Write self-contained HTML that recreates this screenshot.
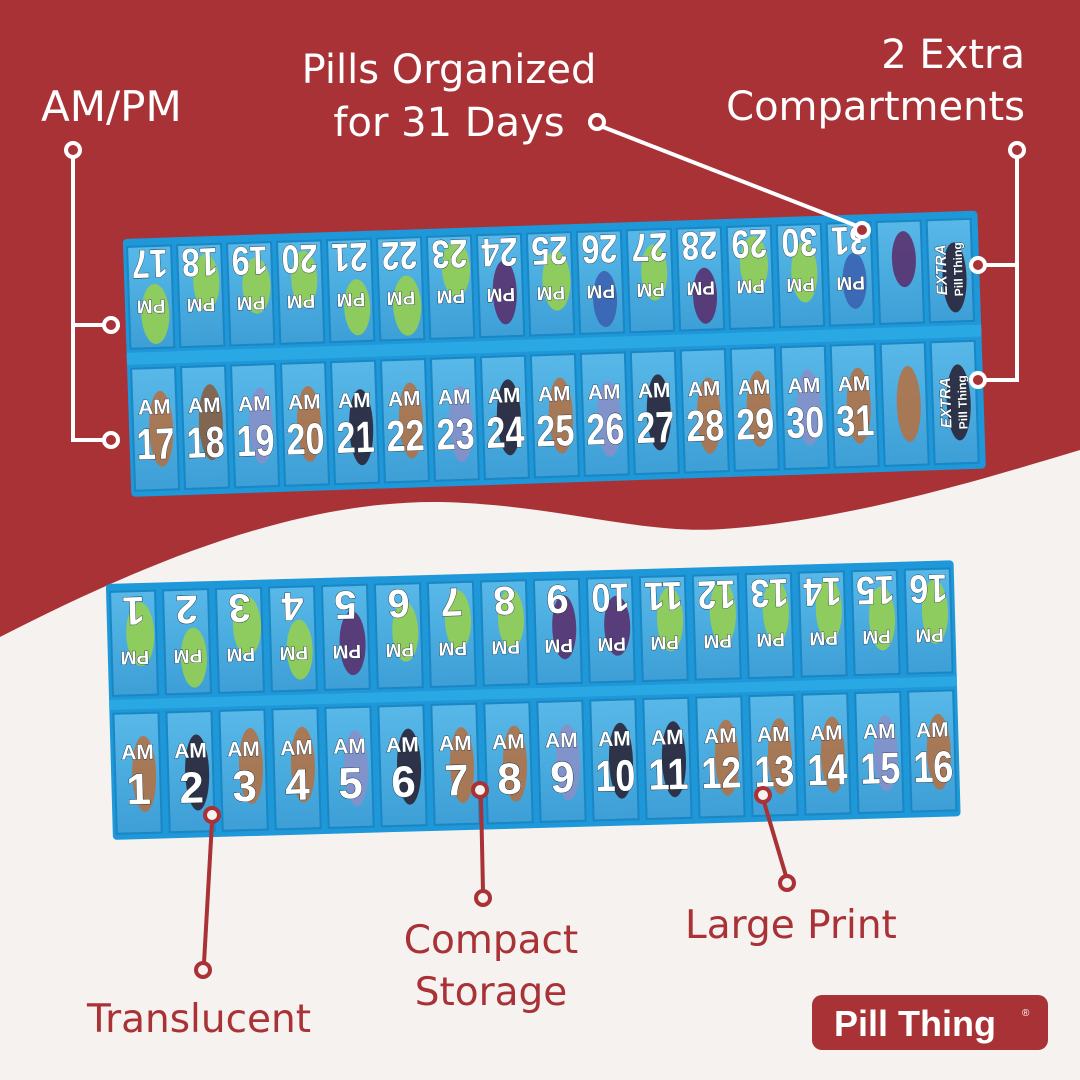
<!DOCTYPE html>
<html><head><meta charset="utf-8"><style>
html,body{margin:0;padding:0}
body{width:1080px;height:1080px;overflow:hidden;background:#a93237;font-family:"Liberation Sans",sans-serif}
svg{position:absolute;left:0;top:0}
.n{font-family:"Liberation Sans",sans-serif;font-weight:bold;fill:#fff;text-anchor:middle;stroke:#123;stroke-width:.8;paint-order:stroke}
.lab{font-family:"DejaVu Sans","Liberation Sans",sans-serif;font-size:40px}
</style></head><body>
<svg width="1080" height="1080" viewBox="0 0 1080 1080">
<path d="M0,637 C150,560 300,500 441,502 C560,505 640,535 723,529 C850,520 980,480 1080,450 L1080,1080 L0,1080Z" fill="#f6f2ef"/>
<defs>
<linearGradient id="c" x1="0" y1="0" x2="0" y2="1"><stop offset="0" stop-color="#58b8e8"/><stop offset="1" stop-color="#3d9fd6"/></linearGradient>
</defs>

<!-- TOP ORGANIZER -->
<g transform="translate(123,245) rotate(-1.9)">
<rect x="0" y="-6" width="855" height="258" rx="4" fill="#1e98d8"/>
<rect x="0" y="108" width="855" height="12" fill="#2aa8e4"/>
<g fill="url(#c)" stroke="#1a86c4" stroke-width="2">
<rect x="4" y="2" width="44" height="102"/><rect x="54" y="2" width="44" height="102"/><rect x="104" y="2" width="44" height="102"/><rect x="154" y="2" width="44" height="102"/><rect x="204" y="2" width="44" height="102"/><rect x="254" y="2" width="44" height="102"/><rect x="304" y="2" width="44" height="102"/><rect x="354" y="2" width="44" height="102"/><rect x="404" y="2" width="44" height="102"/><rect x="454" y="2" width="44" height="102"/><rect x="504" y="2" width="44" height="102"/><rect x="554" y="2" width="44" height="102"/><rect x="604" y="2" width="44" height="102"/><rect x="654" y="2" width="44" height="102"/><rect x="704" y="2" width="44" height="102"/><rect x="754" y="2" width="44" height="102"/><rect x="804" y="2" width="44" height="102"/>
<rect x="4" y="124" width="44" height="122"/><rect x="54" y="124" width="44" height="122"/><rect x="104" y="124" width="44" height="122"/><rect x="154" y="124" width="44" height="122"/><rect x="204" y="124" width="44" height="122"/><rect x="254" y="124" width="44" height="122"/><rect x="304" y="124" width="44" height="122"/><rect x="354" y="124" width="44" height="122"/><rect x="404" y="124" width="44" height="122"/><rect x="454" y="124" width="44" height="122"/><rect x="504" y="124" width="44" height="122"/><rect x="554" y="124" width="44" height="122"/><rect x="604" y="124" width="44" height="122"/><rect x="654" y="124" width="44" height="122"/><rect x="704" y="124" width="44" height="122"/><rect x="754" y="124" width="44" height="122"/><rect x="804" y="124" width="44" height="122"/>
</g>
<g opacity=".85">
<ellipse cx="30" cy="70" rx="14" ry="30" fill="#9bd24a"/><ellipse cx="82" cy="40" rx="13" ry="28" fill="#9bd24a"/><ellipse cx="132" cy="45" rx="14" ry="28" fill="#9bd24a"/><ellipse cx="180" cy="40" rx="13" ry="28" fill="#9bd24a"/><ellipse cx="232" cy="70" rx="13" ry="28" fill="#9bd24a"/><ellipse cx="282" cy="70" rx="14" ry="30" fill="#9bd24a"/><ellipse cx="332" cy="35" rx="14" ry="28" fill="#9bd24a"/><ellipse cx="380" cy="60" rx="12" ry="32" fill="#5b2a6a"/><ellipse cx="432" cy="50" rx="14" ry="30" fill="#9bd24a"/><ellipse cx="480" cy="70" rx="12" ry="28" fill="#3b5fb0"/><ellipse cx="530" cy="45" rx="13" ry="28" fill="#9bd24a"/><ellipse cx="580" cy="70" rx="12" ry="28" fill="#5b2a6a"/><ellipse cx="630" cy="40" rx="14" ry="28" fill="#9bd24a"/><ellipse cx="680" cy="50" rx="13" ry="30" fill="#9bd24a"/><ellipse cx="730" cy="60" rx="12" ry="28" fill="#3b5fb0"/><ellipse cx="780" cy="40" rx="12" ry="28" fill="#5b2a6a"/>
<ellipse cx="32" cy="185" rx="12" ry="38" fill="#b8703f"/><ellipse cx="82" cy="180" rx="12" ry="38" fill="#8b5a3a"/><ellipse cx="132" cy="185" rx="12" ry="38" fill="#8a8fc8"/><ellipse cx="180" cy="185" rx="12" ry="38" fill="#b8703f"/><ellipse cx="232" cy="190" rx="12" ry="38" fill="#2a1e30"/><ellipse cx="282" cy="185" rx="12" ry="38" fill="#b8703f"/><ellipse cx="332" cy="190" rx="12" ry="38" fill="#8a8fc8"/><ellipse cx="380" cy="185" rx="12" ry="38" fill="#2a1e30"/><ellipse cx="432" cy="185" rx="12" ry="38" fill="#b8703f"/><ellipse cx="480" cy="190" rx="12" ry="38" fill="#8a8fc8"/><ellipse cx="530" cy="185" rx="12" ry="38" fill="#2a1e30"/><ellipse cx="580" cy="190" rx="12" ry="38" fill="#b8703f"/><ellipse cx="630" cy="185" rx="12" ry="38" fill="#b8703f"/><ellipse cx="680" cy="185" rx="12" ry="38" fill="#8a8fc8"/><ellipse cx="730" cy="185" rx="12" ry="38" fill="#b8703f"/><ellipse cx="780" cy="185" rx="12" ry="38" fill="#b8703f"/>
<ellipse cx="830" cy="60" rx="12" ry="35" fill="#2a1e30"/><ellipse cx="830" cy="185" rx="12" ry="38" fill="#2a1e30"/>
</g>
<g class="n">
<g transform="rotate(180 26 52)" font-size="19"><text x="26" y="48">PM</text><text x="26" y="98" font-size="40" textLength="36" lengthAdjust="spacingAndGlyphs">17</text></g>
<g transform="rotate(180 76 52)" font-size="19"><text x="76" y="48">PM</text><text x="76" y="98" font-size="40" textLength="36" lengthAdjust="spacingAndGlyphs">18</text></g>
<g transform="rotate(180 126 52)" font-size="19"><text x="126" y="48">PM</text><text x="126" y="98" font-size="40" textLength="36" lengthAdjust="spacingAndGlyphs">19</text></g>
<g transform="rotate(180 176 52)" font-size="19"><text x="176" y="48">PM</text><text x="176" y="98" font-size="40" textLength="36" lengthAdjust="spacingAndGlyphs">20</text></g>
<g transform="rotate(180 226 52)" font-size="19"><text x="226" y="48">PM</text><text x="226" y="98" font-size="40" textLength="36" lengthAdjust="spacingAndGlyphs">21</text></g>
<g transform="rotate(180 276 52)" font-size="19"><text x="276" y="48">PM</text><text x="276" y="98" font-size="40" textLength="36" lengthAdjust="spacingAndGlyphs">22</text></g>
<g transform="rotate(180 326 52)" font-size="19"><text x="326" y="48">PM</text><text x="326" y="98" font-size="40" textLength="36" lengthAdjust="spacingAndGlyphs">23</text></g>
<g transform="rotate(180 376 52)" font-size="19"><text x="376" y="48">PM</text><text x="376" y="98" font-size="40" textLength="36" lengthAdjust="spacingAndGlyphs">24</text></g>
<g transform="rotate(180 426 52)" font-size="19"><text x="426" y="48">PM</text><text x="426" y="98" font-size="40" textLength="36" lengthAdjust="spacingAndGlyphs">25</text></g>
<g transform="rotate(180 476 52)" font-size="19"><text x="476" y="48">PM</text><text x="476" y="98" font-size="40" textLength="36" lengthAdjust="spacingAndGlyphs">26</text></g>
<g transform="rotate(180 526 52)" font-size="19"><text x="526" y="48">PM</text><text x="526" y="98" font-size="40" textLength="36" lengthAdjust="spacingAndGlyphs">27</text></g>
<g transform="rotate(180 576 52)" font-size="19"><text x="576" y="48">PM</text><text x="576" y="98" font-size="40" textLength="36" lengthAdjust="spacingAndGlyphs">28</text></g>
<g transform="rotate(180 626 52)" font-size="19"><text x="626" y="48">PM</text><text x="626" y="98" font-size="40" textLength="36" lengthAdjust="spacingAndGlyphs">29</text></g>
<g transform="rotate(180 676 52)" font-size="19"><text x="676" y="48">PM</text><text x="676" y="98" font-size="40" textLength="36" lengthAdjust="spacingAndGlyphs">30</text></g>
<g transform="rotate(180 726 52)" font-size="19"><text x="726" y="48">PM</text><text x="726" y="98" font-size="40" textLength="36" lengthAdjust="spacingAndGlyphs">31</text></g>
<g transform="rotate(-90 826 52)" font-size="15"><text x="826" y="48" font-style="italic">EXTRA</text><text x="826" y="64" font-size="12">Pill Thing</text></g>
<g transform="rotate(-90 826 185)" font-size="15"><text x="826" y="181" font-style="italic">EXTRA</text><text x="826" y="197" font-size="12">Pill Thing</text></g>
<g font-size="21"><text x="26" y="170">AM</text><text x="76" y="170">AM</text><text x="126" y="170">AM</text><text x="176" y="170">AM</text><text x="226" y="170">AM</text><text x="276" y="170">AM</text><text x="326" y="170">AM</text><text x="376" y="170">AM</text><text x="426" y="170">AM</text><text x="476" y="170">AM</text><text x="526" y="170">AM</text><text x="576" y="170">AM</text><text x="626" y="170">AM</text><text x="676" y="170">AM</text><text x="726" y="170">AM</text></g>
<g font-size="44" lengthAdjust="spacingAndGlyphs"><text x="26" y="215" textLength="38" lengthAdjust="spacingAndGlyphs">17</text><text x="76" y="215" textLength="38" lengthAdjust="spacingAndGlyphs">18</text><text x="126" y="215" textLength="38" lengthAdjust="spacingAndGlyphs">19</text><text x="176" y="215" textLength="38" lengthAdjust="spacingAndGlyphs">20</text><text x="226" y="215" textLength="38" lengthAdjust="spacingAndGlyphs">21</text><text x="276" y="215" textLength="38" lengthAdjust="spacingAndGlyphs">22</text><text x="326" y="215" textLength="38" lengthAdjust="spacingAndGlyphs">23</text><text x="376" y="215" textLength="38" lengthAdjust="spacingAndGlyphs">24</text><text x="426" y="215" textLength="38" lengthAdjust="spacingAndGlyphs">25</text><text x="476" y="215" textLength="38" lengthAdjust="spacingAndGlyphs">26</text><text x="526" y="215" textLength="38" lengthAdjust="spacingAndGlyphs">27</text><text x="576" y="215" textLength="38" lengthAdjust="spacingAndGlyphs">28</text><text x="626" y="215" textLength="38" lengthAdjust="spacingAndGlyphs">29</text><text x="676" y="215" textLength="38" lengthAdjust="spacingAndGlyphs">30</text><text x="726" y="215" textLength="38" lengthAdjust="spacingAndGlyphs">31</text></g>
</g>
</g>

<!-- BOTTOM ORGANIZER -->
<g transform="translate(106,590) rotate(-1.6)">
<rect x="0" y="-6" width="848" height="256" rx="4" fill="#1e98d8"/>
<rect x="0" y="110" width="848" height="10" fill="#2aa8e4"/>
<g fill="url(#c)" stroke="#1a86c4" stroke-width="2">
<rect x="4" y="2" width="45" height="104"/><rect x="57" y="2" width="45" height="104"/><rect x="110" y="2" width="45" height="104"/><rect x="163" y="2" width="45" height="104"/><rect x="216" y="2" width="45" height="104"/><rect x="269" y="2" width="45" height="104"/><rect x="322" y="2" width="45" height="104"/><rect x="375" y="2" width="45" height="104"/><rect x="428" y="2" width="45" height="104"/><rect x="481" y="2" width="45" height="104"/><rect x="534" y="2" width="45" height="104"/><rect x="587" y="2" width="45" height="104"/><rect x="640" y="2" width="45" height="104"/><rect x="693" y="2" width="45" height="104"/><rect x="746" y="2" width="45" height="104"/><rect x="799" y="2" width="45" height="104"/>
<rect x="4" y="124" width="45" height="120"/><rect x="57" y="124" width="45" height="120"/><rect x="110" y="124" width="45" height="120"/><rect x="163" y="124" width="45" height="120"/><rect x="216" y="124" width="45" height="120"/><rect x="269" y="124" width="45" height="120"/><rect x="322" y="124" width="45" height="120"/><rect x="375" y="124" width="45" height="120"/><rect x="428" y="124" width="45" height="120"/><rect x="481" y="124" width="45" height="120"/><rect x="534" y="124" width="45" height="120"/><rect x="587" y="124" width="45" height="120"/><rect x="640" y="124" width="45" height="120"/><rect x="693" y="124" width="45" height="120"/><rect x="746" y="124" width="45" height="120"/><rect x="799" y="124" width="45" height="120"/>
</g>
<g opacity=".85">
<ellipse cx="33" cy="45" rx="14" ry="32" fill="#9bd24a"/><ellipse cx="86" cy="70" rx="13" ry="30" fill="#9bd24a"/><ellipse cx="140" cy="40" rx="14" ry="30" fill="#9bd24a"/><ellipse cx="192" cy="65" rx="13" ry="30" fill="#9bd24a"/><ellipse cx="245" cy="60" rx="13" ry="32" fill="#5b2a6a"/><ellipse cx="298" cy="50" rx="13" ry="30" fill="#9bd24a"/><ellipse cx="351" cy="40" rx="13" ry="30" fill="#9bd24a"/><ellipse cx="404" cy="40" rx="13" ry="30" fill="#9bd24a"/><ellipse cx="457" cy="50" rx="12" ry="32" fill="#5b2a6a"/><ellipse cx="510" cy="50" rx="13" ry="30" fill="#5b2a6a"/><ellipse cx="563" cy="45" rx="13" ry="32" fill="#9bd24a"/><ellipse cx="616" cy="40" rx="13" ry="32" fill="#9bd24a"/><ellipse cx="669" cy="40" rx="13" ry="32" fill="#9bd24a"/><ellipse cx="722" cy="40" rx="13" ry="32" fill="#9bd24a"/><ellipse cx="775" cy="50" rx="13" ry="32" fill="#9bd24a"/><ellipse cx="828" cy="45" rx="13" ry="32" fill="#9bd24a"/>
<ellipse cx="33" cy="185" rx="12" ry="38" fill="#b8703f"/><ellipse cx="86" cy="185" rx="12" ry="38" fill="#2a1e30"/><ellipse cx="140" cy="180" rx="12" ry="38" fill="#b8703f"/><ellipse cx="192" cy="180" rx="12" ry="38" fill="#b8703f"/><ellipse cx="245" cy="185" rx="12" ry="38" fill="#8a8fc8"/><ellipse cx="298" cy="185" rx="12" ry="38" fill="#2a1e30"/><ellipse cx="351" cy="185" rx="12" ry="38" fill="#b8703f"/><ellipse cx="404" cy="185" rx="12" ry="38" fill="#b8703f"/><ellipse cx="457" cy="185" rx="12" ry="38" fill="#8a8fc8"/><ellipse cx="510" cy="185" rx="12" ry="38" fill="#2a1e30"/><ellipse cx="563" cy="185" rx="12" ry="38" fill="#2a1e30"/><ellipse cx="616" cy="185" rx="12" ry="38" fill="#b8703f"/><ellipse cx="669" cy="185" rx="12" ry="38" fill="#b8703f"/><ellipse cx="722" cy="185" rx="12" ry="38" fill="#b8703f"/><ellipse cx="775" cy="185" rx="12" ry="38" fill="#8a8fc8"/><ellipse cx="828" cy="185" rx="12" ry="38" fill="#b8703f"/>
</g>
<g class="n">
<g transform="rotate(180 27 54)" font-size="19"><text x="27" y="46">PM</text><text x="27" y="100" font-size="40">1</text></g>
<g transform="rotate(180 80 54)" font-size="19"><text x="80" y="46">PM</text><text x="80" y="100" font-size="40">2</text></g>
<g transform="rotate(180 133 54)" font-size="19"><text x="133" y="46">PM</text><text x="133" y="100" font-size="40">3</text></g>
<g transform="rotate(180 186 54)" font-size="19"><text x="186" y="46">PM</text><text x="186" y="100" font-size="40">4</text></g>
<g transform="rotate(180 239 54)" font-size="19"><text x="239" y="46">PM</text><text x="239" y="100" font-size="40">5</text></g>
<g transform="rotate(180 292 54)" font-size="19"><text x="292" y="46">PM</text><text x="292" y="100" font-size="40">6</text></g>
<g transform="rotate(180 345 54)" font-size="19"><text x="345" y="46">PM</text><text x="345" y="100" font-size="40">7</text></g>
<g transform="rotate(180 398 54)" font-size="19"><text x="398" y="46">PM</text><text x="398" y="100" font-size="40">8</text></g>
<g transform="rotate(180 451 54)" font-size="19"><text x="451" y="46">PM</text><text x="451" y="100" font-size="40">9</text></g>
<g transform="rotate(180 504 54)" font-size="19"><text x="504" y="46">PM</text><text x="504" y="100" font-size="40" textLength="38" lengthAdjust="spacingAndGlyphs">10</text></g>
<g transform="rotate(180 557 54)" font-size="19"><text x="557" y="46">PM</text><text x="557" y="100" font-size="40" textLength="38" lengthAdjust="spacingAndGlyphs">11</text></g>
<g transform="rotate(180 610 54)" font-size="19"><text x="610" y="46">PM</text><text x="610" y="100" font-size="40" textLength="38" lengthAdjust="spacingAndGlyphs">12</text></g>
<g transform="rotate(180 663 54)" font-size="19"><text x="663" y="46">PM</text><text x="663" y="100" font-size="40" textLength="38" lengthAdjust="spacingAndGlyphs">13</text></g>
<g transform="rotate(180 716 54)" font-size="19"><text x="716" y="46">PM</text><text x="716" y="100" font-size="40" textLength="38" lengthAdjust="spacingAndGlyphs">14</text></g>
<g transform="rotate(180 769 54)" font-size="19"><text x="769" y="46">PM</text><text x="769" y="100" font-size="40" textLength="38" lengthAdjust="spacingAndGlyphs">15</text></g>
<g transform="rotate(180 822 54)" font-size="19"><text x="822" y="46">PM</text><text x="822" y="100" font-size="40" textLength="38" lengthAdjust="spacingAndGlyphs">16</text></g>
<g font-size="21"><text x="27" y="170">AM</text><text x="80" y="170">AM</text><text x="133" y="170">AM</text><text x="186" y="170">AM</text><text x="239" y="170">AM</text><text x="292" y="170">AM</text><text x="345" y="170">AM</text><text x="398" y="170">AM</text><text x="451" y="170">AM</text><text x="504" y="170">AM</text><text x="557" y="170">AM</text><text x="610" y="170">AM</text><text x="663" y="170">AM</text><text x="716" y="170">AM</text><text x="769" y="170">AM</text><text x="822" y="170">AM</text></g>
<g font-size="44"><text x="27" y="215">1</text><text x="80" y="215">2</text><text x="133" y="215">3</text><text x="186" y="215">4</text><text x="239" y="215">5</text><text x="292" y="215">6</text><text x="345" y="215">7</text><text x="398" y="215">8</text><text x="451" y="215">9</text><text x="504" y="215" textLength="40" lengthAdjust="spacingAndGlyphs">10</text><text x="557" y="215" textLength="40" lengthAdjust="spacingAndGlyphs">11</text><text x="610" y="215" textLength="40" lengthAdjust="spacingAndGlyphs">12</text><text x="663" y="215" textLength="40" lengthAdjust="spacingAndGlyphs">13</text><text x="716" y="215" textLength="40" lengthAdjust="spacingAndGlyphs">14</text><text x="769" y="215" textLength="40" lengthAdjust="spacingAndGlyphs">15</text><text x="822" y="215" textLength="40" lengthAdjust="spacingAndGlyphs">16</text></g>
</g>
</g>

<!-- white connectors -->
<g stroke="#fff" stroke-width="4" fill="none">
<path d="M73,156 V440 H104 M73,325 H104"/>
<path d="M603,127 L857,226"/>
<path d="M1017,156 V380 H985 M1017,265 H985"/>
</g>
<g stroke="#fff" stroke-width="4" fill="#a93237">
<circle cx="73" cy="150" r="7"/><circle cx="111" cy="325" r="7"/><circle cx="111" cy="440" r="7"/>
<circle cx="597" cy="122" r="7"/><circle cx="862" cy="230" r="7"/>
<circle cx="1017" cy="150" r="7"/><circle cx="978" cy="265" r="7"/><circle cx="978" cy="380" r="7"/>
</g>
<!-- red connectors -->
<g stroke="#a93237" stroke-width="4" fill="none">
<path d="M212,822 L204,963"/><path d="M481,797 L483,891"/><path d="M764,802 L786,876"/>
</g>
<g stroke="#a93237" stroke-width="4" fill="#f6f2ef">
<circle cx="212" cy="815" r="7"/><circle cx="203" cy="970" r="7"/>
<circle cx="480" cy="790" r="7"/><circle cx="483" cy="898" r="7"/>
<circle cx="763" cy="795" r="7"/><circle cx="787" cy="883" r="7"/>
</g>

<g class="lab" fill="#fff">
<text x="41" y="121" font-size="42">AM/PM</text>
<text x="449" y="83" text-anchor="middle">Pills Organized</text>
<text x="449" y="136" text-anchor="middle">for 31 Days</text>
<text x="1025" y="68" text-anchor="end">2 Extra</text>
<text x="1025" y="120" text-anchor="end">Compartments</text>
</g>
<g class="lab" fill="#a93237" font-size="39">
<text x="87" y="1032" font-size="39">Translucent</text>
<text x="491" y="953" text-anchor="middle" font-size="39">Compact</text>
<text x="491" y="1005" text-anchor="middle" font-size="39">Storage</text>
<text x="685" y="938" font-size="39">Large Print</text>
</g>
<rect x="812" y="995" width="236" height="55" rx="10" fill="#a93237"/>
<text x="915" y="1036" text-anchor="middle" fill="#fff" font-family="Liberation Sans" font-weight="bold" font-size="36">Pill Thing</text>
<text x="1022" y="1016" fill="#fff" font-family="Liberation Sans" font-size="10">®</text>
</svg>
</body></html>
